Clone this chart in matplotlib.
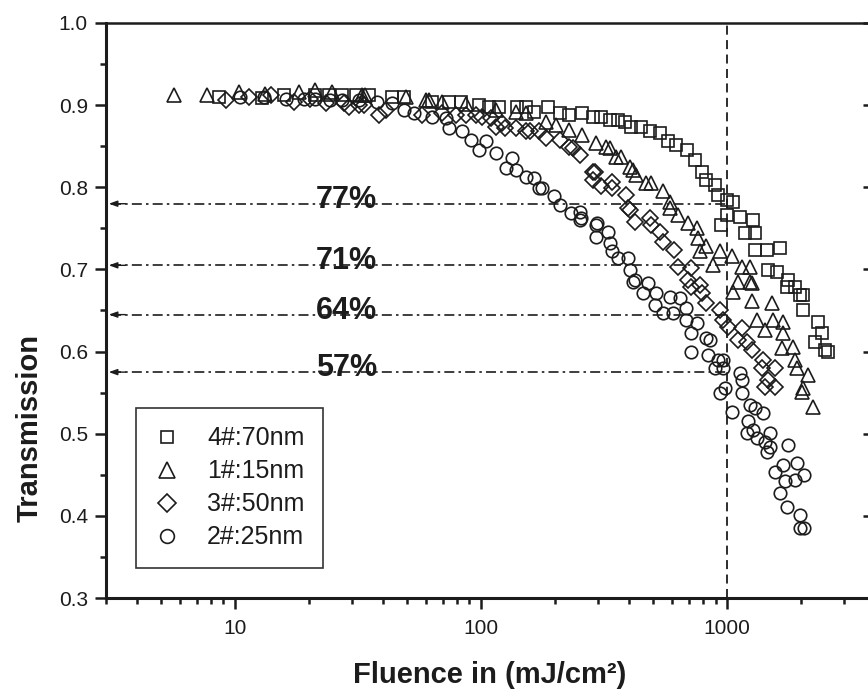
"""Transmission vs fluence for four film thicknesses (optical limiting plot)."""

import matplotlib

matplotlib.use("Agg")
import matplotlib.pyplot as plt  # noqa: E402
from matplotlib.ticker import LogLocator, MultipleLocator, NullFormatter, FixedLocator, FixedFormatter  # noqa: E402

plt.rcParams["font.family"] = ["Liberation Sans", "DejaVu Sans"]

# 4#:70nm (squares)
sq_f = [8.6, 12.9, 15.8, 21.3, 24.2, 27.3, 31.0, 35.2, 43.6, 48.8, 63.5, 74.4, 83.0, 98.6,
        108, 119, 141, 153, 165, 187, 209, 229, 259, 285, 309, 334, 360, 384, 409, 449,
        486, 533, 575, 624, 686, 741, 789, 826, 893, 919, 997, 1058, 997, 951, 1129, 1276,
        1183, 1300, 1300, 1451, 1644, 1469, 1594, 1773, 1892, 2040, 1751, 1983, 2040, 2348,
        2431, 2283, 2506, 2578]
sq_t = [0.910, 0.909, 0.912, 0.912, 0.912, 0.912, 0.912, 0.912, 0.910, 0.910, 0.904, 0.904,
        0.904, 0.900, 0.898, 0.898, 0.898, 0.898, 0.892, 0.898, 0.890, 0.888, 0.890, 0.886,
        0.886, 0.882, 0.882, 0.880, 0.874, 0.874, 0.868, 0.866, 0.856, 0.852, 0.845, 0.833,
        0.819, 0.809, 0.803, 0.791, 0.785, 0.782, 0.766, 0.754, 0.764, 0.760, 0.744, 0.744,
        0.724, 0.724, 0.726, 0.699, 0.697, 0.687, 0.679, 0.669, 0.679, 0.669, 0.651, 0.636,
        0.623, 0.612, 0.602, 0.600]

# 1#:15nm (triangles)
tri_f = [5.65, 7.7, 10.4, 13.3, 18.2, 21.3, 24.8, 32.9, 34.0, 49.6, 59.8, 61.7, 69.7, 87.1,
         115, 139, 153, 184, 203, 229, 259, 295, 324, 334, 355, 373, 403, 414, 429, 471,
         494, 549, 586, 586, 631, 693, 753, 762, 826, 776, 937, 877, 1045, 1148, 1241, 1058,
         1241, 1109, 1261, 1261, 1521, 1322, 1539, 1429, 1691, 1691, 1857, 1671, 1892, 1923,
         2138, 2040, 2015, 2241]
tri_t = [0.912, 0.912, 0.916, 0.914, 0.916, 0.918, 0.916, 0.912, 0.912, 0.910, 0.906, 0.906,
         0.904, 0.902, 0.894, 0.892, 0.890, 0.880, 0.876, 0.870, 0.864, 0.854, 0.849, 0.848,
         0.837, 0.837, 0.825, 0.821, 0.815, 0.805, 0.805, 0.795, 0.782, 0.775, 0.766, 0.757,
         0.750, 0.738, 0.728, 0.722, 0.722, 0.705, 0.716, 0.703, 0.703, 0.673, 0.685, 0.685,
         0.684, 0.661, 0.659, 0.638, 0.638, 0.626, 0.636, 0.623, 0.606, 0.604, 0.590, 0.580,
         0.572, 0.556, 0.551, 0.533]

# 3#:50nm (diamonds)
dia_f = [9.2, 11.4, 14.1, 17.4, 20.3, 23.4, 27.8, 29.1, 32.0, 33.5, 38.6, 41.1, 57.8, 69.7,
         79.3, 87.1, 95.5, 101, 110, 115, 122, 125, 139, 153, 158, 173, 184, 209, 229, 236,
         252, 285, 290, 285, 309, 343, 343, 390, 395, 403, 422, 486, 494, 533, 549, 611,
         631, 718, 693, 776, 718, 789, 825, 937, 968, 1014, 1148, 1109, 1202, 1261, 1402,
         1385, 1569, 1469, 1429, 1569]
dia_t = [0.906, 0.910, 0.912, 0.904, 0.908, 0.903, 0.903, 0.898, 0.900, 0.900, 0.888, 0.894,
         0.888, 0.890, 0.888, 0.888, 0.888, 0.886, 0.884, 0.874, 0.878, 0.872, 0.872, 0.868,
         0.868, 0.868, 0.860, 0.857, 0.849, 0.848, 0.839, 0.819, 0.819, 0.809, 0.801, 0.807,
         0.799, 0.791, 0.775, 0.772, 0.758, 0.763, 0.754, 0.746, 0.734, 0.724, 0.703, 0.702,
         0.687, 0.681, 0.679, 0.671, 0.659, 0.651, 0.638, 0.630, 0.629, 0.614, 0.612, 0.602,
         0.590, 0.580, 0.580, 0.565, 0.557, 0.557]

# 2#:25nm (circles)
cir_f = [10.5, 13.1, 16.1, 19.1, 21.3, 24.5, 27.3, 32.0, 37.9, 43.6, 48.8, 53.6, 63.5, 72.1,
         74.4, 84.1, 91.2, 105, 98.6, 115, 134, 127, 139, 153, 165, 173, 178, 199, 209, 233,
         252, 256, 252, 295, 298, 295, 329, 334, 343, 360, 395, 403, 422, 414, 477, 455, 517,
         586, 644, 509, 549, 603, 685, 685, 753, 718, 826, 853, 718, 837, 919, 968, 893, 968,
         1129, 1148, 937, 985, 1148, 1052, 1241, 1300, 1402, 1217, 1276, 1202, 1497, 1322,
         1429, 1497, 1451, 1773, 1569, 1691, 1923, 2059, 1892, 1727, 1644, 1751, 1983, 1983,
         2059]
cir_t = [0.910, 0.910, 0.908, 0.908, 0.908, 0.906, 0.906, 0.906, 0.904, 0.903, 0.894, 0.890,
         0.886, 0.884, 0.872, 0.868, 0.858, 0.856, 0.845, 0.842, 0.836, 0.824, 0.821, 0.813,
         0.811, 0.799, 0.799, 0.789, 0.778, 0.769, 0.770, 0.763, 0.760, 0.754, 0.757, 0.740,
         0.746, 0.732, 0.722, 0.714, 0.714, 0.699, 0.687, 0.685, 0.684, 0.671, 0.671, 0.667,
         0.665, 0.657, 0.647, 0.647, 0.653, 0.638, 0.635, 0.623, 0.617, 0.614, 0.600, 0.596,
         0.590, 0.590, 0.580, 0.580, 0.574, 0.565, 0.550, 0.556, 0.550, 0.527, 0.535, 0.531,
         0.525, 0.515, 0.505, 0.501, 0.501, 0.495, 0.490, 0.484, 0.478, 0.486, 0.454, 0.462,
         0.464, 0.450, 0.444, 0.442, 0.428, 0.411, 0.401, 0.385, 0.385]

levels = [0.78, 0.705, 0.645, 0.575]
level_labels = ["77%", "71%", "64%", "57%"]
label_x = 28.5
threshold = 1000

y_ticks = [0.3, 0.4, 0.5, 0.6, 0.7, 0.8, 0.9, 1.0]
x_ticks = [10, 100, 1000]


def main() -> None:
    fig = plt.figure(figsize=(8.68, 6.95), dpi=100)
    ax = fig.add_axes([106 / 868, 97 / 695, 769 / 868, 575 / 695])
    ax.set_xscale("log")
    ax.set_xlim(3, 4000)
    ax.set_ylim(0.3, 1.0)

    ink = "#1c1c1c"
    kw = dict(ls="none", mfc="none", mec=ink, mew=1.2)
    ax.plot(sq_f, sq_t, marker="s", ms=8.5, label="4#:70nm", **kw)
    ax.plot(tri_f, tri_t, marker="^", ms=10, label="1#:15nm", **kw)
    ax.plot(dia_f, dia_t, marker="D", ms=8, label="3#:50nm", **kw)
    ax.plot(cir_f, cir_t, marker="o", ms=9, label="2#:25nm", **kw)

    ax.axvline(threshold, color=ink, lw=1.3, dashes=(5, 3), zorder=1)
    for y, txt in zip(levels, level_labels):
        ax.plot([3.15, threshold], [y, y], color=ink, lw=1.2, dashes=(6, 2.5, 1.5, 2.5), zorder=1)
        ax.annotate("", xy=(3.08, y), xytext=(3.6, y),
                    arrowprops=dict(arrowstyle="-|>,head_length=0.5,head_width=0.18",
                                    color=ink, lw=1.0, shrinkA=0, shrinkB=0))
        ax.text(label_x, y - 0.005, txt, ha="center", va="baseline",
                fontsize=22, fontweight="bold", color=ink)

    ax.yaxis.set_major_locator(FixedLocator(y_ticks))
    ax.yaxis.set_major_formatter(FixedFormatter([f"{v:.1f}" for v in y_ticks]))
    ax.yaxis.set_minor_locator(MultipleLocator(0.05))
    ax.xaxis.set_major_locator(FixedLocator(x_ticks))
    ax.xaxis.set_major_formatter(FixedFormatter([str(v) for v in x_ticks]))
    ax.xaxis.set_minor_locator(LogLocator(base=10, subs=range(2, 10)))
    ax.xaxis.set_minor_formatter(NullFormatter())

    ax.tick_params(which="both", direction="out", top=False, right=False, width=1.8,
                   labelsize=15, colors=ink)
    ax.tick_params(which="major", length=8, pad=5)
    ax.tick_params(which="minor", length=4.5)
    ax.tick_params(axis="x", which="major", pad=7)
    for side in ("left", "bottom"):
        ax.spines[side].set_linewidth(2.2)
    ax.spines["top"].set_linewidth(1.8)
    ax.spines["right"].set_linewidth(1.8)
    for s in ax.spines.values():
        s.set_color(ink)

    right = ax.secondary_yaxis("right")
    right.yaxis.set_major_locator(FixedLocator(y_ticks))
    right.yaxis.set_minor_locator(MultipleLocator(0.05))
    right.tick_params(which="both", direction="in", labelright=False, width=1.8, colors=ink)
    right.tick_params(which="major", length=9)
    right.tick_params(which="minor", length=5)

    leg = ax.legend(loc="lower left", bbox_to_anchor=(0.039, 0.052), borderaxespad=0,
                    fontsize=18, fancybox=False, framealpha=1, edgecolor="#333333",
                    handlelength=1.0, handletextpad=1.1, borderpad=0.75, labelspacing=0.36,
                    numpoints=1, markerscale=1.1)
    leg.get_frame().set_linewidth(1.2)
    for t in leg.get_texts():
        t.set_color(ink)

    fig.text(490 / 868, 1 - 675 / 695, "Fluence in (mJ/cm²)", ha="center", va="center",
             fontsize=21, fontweight="bold", color=ink)
    fig.text(30 / 868, 1 - 428 / 695, "Transmission", ha="center", va="center",
             rotation=90, fontsize=21, fontweight="bold", color=ink)

    fig.savefig("out.png", dpi=100)


if __name__ == "__main__":
    main()
